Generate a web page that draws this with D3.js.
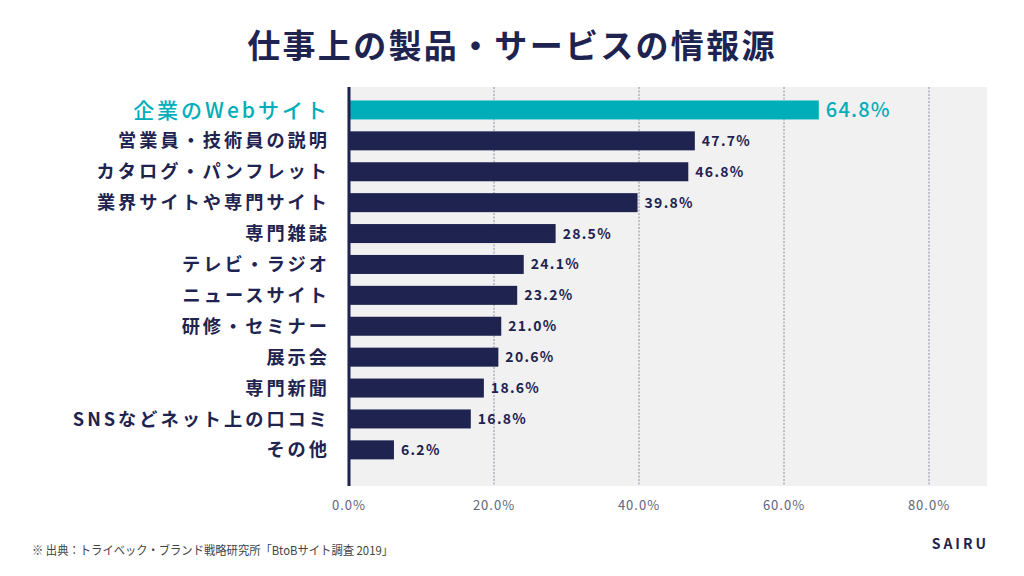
<!DOCTYPE html>
<html><head><meta charset="utf-8">
<script src="https://cdn.jsdelivr.net/npm/d3@7"></script>
<style>
html,body{margin:0;padding:0;background:#fff;}
svg{display:block;font-family:"Noto Sans CJK JP","Noto Sans",sans-serif;}
</style></head>
<body>
<svg id="c" width="1024" height="576"></svg>
<script>
const categories = ["企業のWebサイト","営業員・技術員の説明","カタログ・パンフレット","業界サイトや専門サイト","専門雑誌","テレビ・ラジオ","ニュースサイト","研修・セミナー","展示会","専門新聞","SNSなどネット上の口コミ","その他"];
const values = [64.8,47.7,46.8,39.8,28.5,24.1,23.2,21.0,20.6,18.6,16.8,6.2];
const ticks = [0,20,40,60,80];
const tickLabels = ["0.0%","20.0%","40.0%","60.0%","80.0%"];
const title = "仕事上の製品・サービスの情報源";
const source = "※ 出典：トライベック・ブランド戦略研究所「BtoBサイト調査 2019」";

(function(){
const navy = "#1e2350", teal = "#00aeba";
const svg = d3.select("#c");
const x = d3.scaleLinear().domain([0,80]).range([349,929]);
const y = d3.scaleBand().domain(categories).range([94.5,465.3]).paddingInner(0.385).paddingOuter(0.1925);
const pTop = 87, pBottom = 486;

svg.append("text").attr("x",512).attr("y",58).attr("text-anchor","middle")
  .attr("font-size",33).attr("font-weight",700).attr("fill",navy).attr("letter-spacing",2.3)
  .text(title);

svg.append("rect").attr("x",x(0)-2).attr("y",pTop).attr("width",x(88)-x(0)+2).attr("height",pBottom-pTop).attr("fill","#f1f1f1");

svg.selectAll("line.grid").data(ticks.slice(1)).join("line").attr("class","grid")
  .attr("x1",d=>x(d)).attr("x2",d=>x(d)).attr("y1",pTop).attr("y2",pBottom)
  .attr("stroke","#8a8ea6").attr("stroke-width",1).attr("stroke-dasharray","2,1.5");

svg.selectAll("rect.bar").data(values).join("rect").attr("class","bar")
  .attr("x",x(0)).attr("y",(d,i)=>y(categories[i])).attr("height",y.bandwidth())
  .attr("width",d=>x(d)-x(0)).attr("fill",(d,i)=>i===0?teal:navy);

svg.append("line").attr("x1",x(0)).attr("x2",x(0)).attr("y1",pTop).attr("y2",pBottom)
  .attr("stroke",navy).attr("stroke-width",3);

svg.selectAll("text.cat").data(categories).join("text").attr("class","cat")
  .attr("x",(d,i)=>i===0?330:330).attr("y",d=>y(d)+y.bandwidth()/2).attr("dy","0.36em")
  .attr("text-anchor","end")
  .attr("font-size",(d,i)=>i===0?21:18.2).attr("font-weight",(d,i)=>i===0?500:700)
  .attr("letter-spacing",(d,i)=>i===0?3:3)
  .attr("fill",(d,i)=>i===0?teal:navy).text(d=>d);

svg.selectAll("text.val").data(values).join("text").attr("class","val")
  .attr("x",(d,i)=>x(d)+7).attr("y",(d,i)=>y(categories[i])+y.bandwidth()/2).attr("dy","0.36em")
  .attr("font-size",(d,i)=>i===0?20:14).attr("font-weight",(d,i)=>i===0?500:700)
  .attr("letter-spacing",(d,i)=>i===0?1.2:1.3)
  .attr("fill",(d,i)=>i===0?teal:navy).text(d=>d.toFixed(1)+"%");

svg.selectAll("text.tick").data(ticks).join("text").attr("class","tick")
  .attr("x",d=>x(d)).attr("y",510).attr("text-anchor","middle")
  .attr("font-size",13).attr("letter-spacing",1).attr("fill","#60647c")
  .text((d,i)=>tickLabels[i]);

svg.append("text").attr("x",32).attr("y",555).attr("font-size",12).attr("fill","#444")
  .attr("textLength",361).attr("lengthAdjust","spacingAndGlyphs").text(source);

svg.append("text").attr("x",989).attr("y",549).attr("text-anchor","end")
  .attr("font-size",14).attr("font-weight",700).attr("letter-spacing",3).attr("fill",navy)
  .text("SAIRU");
})();
</script>
</body></html>
